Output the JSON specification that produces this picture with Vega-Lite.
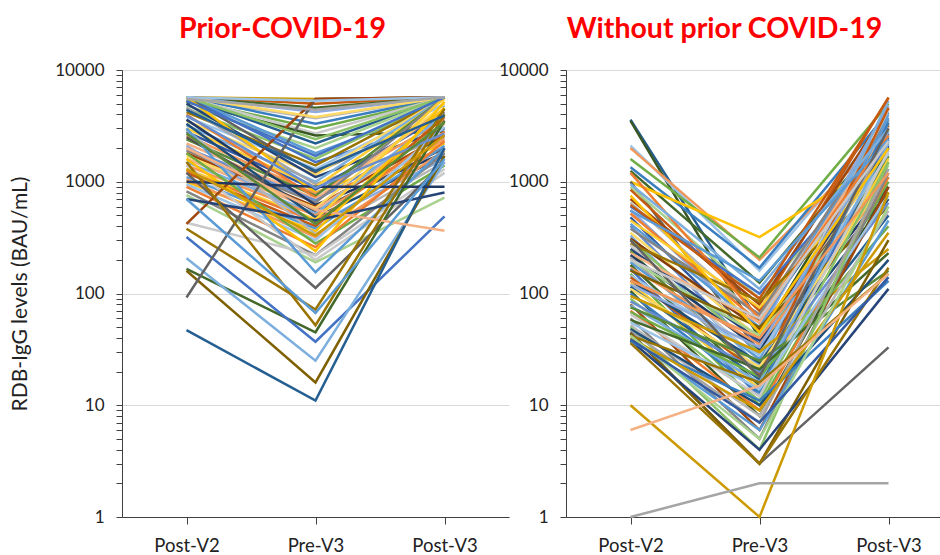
{
"$schema": "https://vega.github.io/schema/vega-lite/v6.json",
"background": "white",
"padding": {"left": 9, "top": 14, "right": 0, "bottom": 0},
"spacing": -11,
"config": {"view": {"stroke": null}, "font": "Lato",
  "axis": {"labelFont": "Lato", "titleFont": "Lato", "labelColor": "#222222", "titleColor": "#222222"}},
"datasets": {
"prior": [
{"id":1,"t":"Post-V2","v":5700,"s":21},{"id":1,"t":"Pre-V3","v":5500,"s":21},{"id":1,"t":"Post-V3","v":5700,"s":21},
{"id":2,"t":"Post-V2","v":5700,"s":19},{"id":2,"t":"Pre-V3","v":5000,"s":19},{"id":2,"t":"Post-V3","v":5700,"s":19},
{"id":3,"t":"Post-V2","v":5700,"s":11},{"id":3,"t":"Pre-V3","v":4600,"s":11},{"id":3,"t":"Post-V3","v":5700,"s":11},
{"id":4,"t":"Post-V2","v":5700,"s":24},{"id":4,"t":"Pre-V3","v":4200,"s":24},{"id":4,"t":"Post-V3","v":5700,"s":24},
{"id":5,"t":"Post-V2","v":5600,"s":14},{"id":5,"t":"Pre-V3","v":3700,"s":14},{"id":5,"t":"Post-V3","v":5700,"s":14},
{"id":6,"t":"Post-V2","v":5700,"s":22},{"id":6,"t":"Pre-V3","v":3300,"s":22},{"id":6,"t":"Post-V3","v":5700,"s":22},
{"id":7,"t":"Post-V2","v":5400,"s":5},{"id":7,"t":"Pre-V3","v":3000,"s":5},{"id":7,"t":"Post-V3","v":5600,"s":5},
{"id":8,"t":"Post-V2","v":5700,"s":26},{"id":8,"t":"Pre-V3","v":2700,"s":26},{"id":8,"t":"Post-V3","v":5700,"s":26},
{"id":9,"t":"Post-V2","v":5200,"s":35},{"id":9,"t":"Pre-V3","v":2600,"s":35},{"id":9,"t":"Post-V3","v":2800,"s":35},
{"id":10,"t":"Post-V2","v":5700,"s":10},{"id":10,"t":"Pre-V3","v":2200,"s":10},{"id":10,"t":"Post-V3","v":5700,"s":10},
{"id":11,"t":"Post-V2","v":4800,"s":29},{"id":11,"t":"Pre-V3","v":2000,"s":29},{"id":11,"t":"Post-V3","v":5700,"s":29},
{"id":12,"t":"Post-V2","v":5700,"s":4},{"id":12,"t":"Pre-V3","v":1800,"s":4},{"id":12,"t":"Post-V3","v":4800,"s":4},
{"id":13,"t":"Post-V2","v":4500,"s":17},{"id":13,"t":"Pre-V3","v":1600,"s":17},{"id":13,"t":"Post-V3","v":5700,"s":17},
{"id":14,"t":"Post-V2","v":5700,"s":0},{"id":14,"t":"Pre-V3","v":1500,"s":0},{"id":14,"t":"Post-V3","v":3500,"s":0},
{"id":15,"t":"Post-V2","v":4200,"s":9},{"id":15,"t":"Pre-V3","v":1400,"s":9},{"id":15,"t":"Post-V3","v":5700,"s":9},
{"id":16,"t":"Post-V2","v":3800,"s":28},{"id":16,"t":"Pre-V3","v":1300,"s":28},{"id":16,"t":"Post-V3","v":5000,"s":28},
{"id":17,"t":"Post-V2","v":5700,"s":8},{"id":17,"t":"Pre-V3","v":1200,"s":8},{"id":17,"t":"Post-V3","v":4200,"s":8},
{"id":18,"t":"Post-V2","v":3500,"s":27},{"id":18,"t":"Pre-V3","v":1150,"s":27},{"id":18,"t":"Post-V3","v":5700,"s":27},
{"id":19,"t":"Post-V2","v":5000,"s":6},{"id":19,"t":"Pre-V3","v":1100,"s":6},{"id":19,"t":"Post-V3","v":3000,"s":6},
{"id":20,"t":"Post-V2","v":3200,"s":16},{"id":20,"t":"Pre-V3","v":1000,"s":16},{"id":20,"t":"Post-V3","v":5700,"s":16},
{"id":21,"t":"Post-V2","v":4600,"s":2},{"id":21,"t":"Pre-V3","v":950,"s":2},{"id":21,"t":"Post-V3","v":2500,"s":2},
{"id":22,"t":"Post-V2","v":3000,"s":15},{"id":22,"t":"Pre-V3","v":900,"s":15},{"id":22,"t":"Post-V3","v":5500,"s":15},
{"id":23,"t":"Post-V2","v":2800,"s":18},{"id":23,"t":"Pre-V3","v":850,"s":18},{"id":23,"t":"Post-V3","v":4000,"s":18},
{"id":24,"t":"Post-V2","v":5700,"s":3},{"id":24,"t":"Pre-V3","v":800,"s":3},{"id":24,"t":"Post-V3","v":2200,"s":3},
{"id":25,"t":"Post-V2","v":2600,"s":13},{"id":25,"t":"Pre-V3","v":780,"s":13},{"id":25,"t":"Post-V3","v":3600,"s":13},
{"id":26,"t":"Post-V2","v":2400,"s":23},{"id":26,"t":"Pre-V3","v":750,"s":23},{"id":26,"t":"Post-V3","v":5700,"s":23},
{"id":27,"t":"Post-V2","v":4000,"s":1},{"id":27,"t":"Pre-V3","v":720,"s":1},{"id":27,"t":"Post-V3","v":2000,"s":1},
{"id":28,"t":"Post-V2","v":2200,"s":25},{"id":28,"t":"Pre-V3","v":700,"s":25},{"id":28,"t":"Post-V3","v":4500,"s":25},
{"id":29,"t":"Post-V2","v":2000,"s":12},{"id":29,"t":"Pre-V3","v":680,"s":12},{"id":29,"t":"Post-V3","v":3000,"s":12},
{"id":30,"t":"Post-V2","v":1900,"s":20},{"id":30,"t":"Pre-V3","v":650,"s":20},{"id":30,"t":"Post-V3","v":5700,"s":20},
{"id":31,"t":"Post-V2","v":3600,"s":30},{"id":31,"t":"Pre-V3","v":620,"s":30},{"id":31,"t":"Post-V3","v":1800,"s":30},
{"id":32,"t":"Post-V2","v":1800,"s":7},{"id":32,"t":"Pre-V3","v":600,"s":7},{"id":32,"t":"Post-V3","v":2600,"s":7},
{"id":33,"t":"Post-V2","v":1700,"s":27},{"id":33,"t":"Pre-V3","v":580,"s":27},{"id":33,"t":"Post-V3","v":5000,"s":27},
{"id":34,"t":"Post-V2","v":1600,"s":25},{"id":34,"t":"Pre-V3","v":560,"s":25},{"id":34,"t":"Post-V3","v":3300,"s":25},
{"id":35,"t":"Post-V2","v":2500,"s":32},{"id":35,"t":"Pre-V3","v":540,"s":32},{"id":35,"t":"Post-V3","v":2000,"s":32},
{"id":36,"t":"Post-V2","v":1500,"s":16},{"id":36,"t":"Pre-V3","v":520,"s":16},{"id":36,"t":"Post-V3","v":4000,"s":16},
{"id":37,"t":"Post-V2","v":1400,"s":13},{"id":37,"t":"Pre-V3","v":500,"s":13},{"id":37,"t":"Post-V3","v":2400,"s":13},
{"id":38,"t":"Post-V2","v":3300,"s":34},{"id":38,"t":"Pre-V3","v":480,"s":34},{"id":38,"t":"Post-V3","v":1700,"s":34},
{"id":39,"t":"Post-V2","v":1300,"s":15},{"id":39,"t":"Pre-V3","v":460,"s":15},{"id":39,"t":"Post-V3","v":5700,"s":15},
{"id":40,"t":"Post-V2","v":1250,"s":1},{"id":40,"t":"Pre-V3","v":440,"s":1},{"id":40,"t":"Post-V3","v":2800,"s":1},
{"id":41,"t":"Post-V2","v":2100,"s":24},{"id":41,"t":"Pre-V3","v":420,"s":24},{"id":41,"t":"Post-V3","v":1600,"s":24},
{"id":42,"t":"Post-V2","v":1200,"s":19},{"id":42,"t":"Pre-V3","v":400,"s":19},{"id":42,"t":"Post-V3","v":3800,"s":19},
{"id":43,"t":"Post-V2","v":1100,"s":4},{"id":43,"t":"Pre-V3","v":380,"s":4},{"id":43,"t":"Post-V3","v":2100,"s":4},
{"id":44,"t":"Post-V2","v":1000,"s":3},{"id":44,"t":"Pre-V3","v":360,"s":3},{"id":44,"t":"Post-V3","v":4600,"s":3},
{"id":45,"t":"Post-V2","v":2900,"s":14},{"id":45,"t":"Pre-V3","v":340,"s":14},{"id":45,"t":"Post-V3","v":1500,"s":14},
{"id":46,"t":"Post-V2","v":1050,"s":13},{"id":46,"t":"Pre-V3","v":320,"s":13},{"id":46,"t":"Post-V3","v":1900,"s":13},
{"id":47,"t":"Post-V2","v":950,"s":28},{"id":47,"t":"Pre-V3","v":300,"s":28},{"id":47,"t":"Post-V3","v":3100,"s":28},
{"id":48,"t":"Post-V2","v":1800,"s":5},{"id":48,"t":"Pre-V3","v":280,"s":5},{"id":48,"t":"Post-V3","v":1400,"s":5},
{"id":49,"t":"Post-V2","v":900,"s":1},{"id":49,"t":"Pre-V3","v":260,"s":1},{"id":49,"t":"Post-V3","v":2300,"s":1},
{"id":50,"t":"Post-V2","v":1600,"s":3},{"id":50,"t":"Pre-V3","v":240,"s":3},{"id":50,"t":"Post-V3","v":5200,"s":3},
{"id":51,"t":"Post-V2","v":820,"s":20},{"id":51,"t":"Pre-V3","v":220,"s":20},{"id":51,"t":"Post-V3","v":1800,"s":20},
{"id":52,"t":"Post-V2","v":1400,"s":26},{"id":52,"t":"Pre-V3","v":200,"s":26},{"id":52,"t":"Post-V3","v":1200,"s":26},
{"id":53,"t":"Post-V2","v":760,"s":29},{"id":53,"t":"Pre-V3","v":190,"s":29},{"id":53,"t":"Post-V3","v":720,"s":29},
{"id":54,"t":"Post-V2","v":430,"s":26},{"id":54,"t":"Pre-V3","v":220,"s":26},{"id":54,"t":"Post-V3","v":1300,"s":26},
{"id":55,"t":"Post-V2","v":3000,"s":4},{"id":55,"t":"Pre-V3","v":155,"s":4},{"id":55,"t":"Post-V3","v":2000,"s":4},
{"id":56,"t":"Post-V2","v":1200,"s":8},{"id":56,"t":"Pre-V3","v":112,"s":8},{"id":56,"t":"Post-V3","v":1500,"s":8},
{"id":57,"t":"Post-V2","v":380,"s":9},{"id":57,"t":"Pre-V3","v":72,"s":9},{"id":57,"t":"Post-V3","v":4500,"s":9},
{"id":58,"t":"Post-V2","v":166,"s":11},{"id":58,"t":"Pre-V3","v":45,"s":11},{"id":58,"t":"Post-V3","v":3500,"s":11},
{"id":59,"t":"Post-V2","v":320,"s":0},{"id":59,"t":"Pre-V3","v":37,"s":0},{"id":59,"t":"Post-V3","v":490,"s":0},
{"id":60,"t":"Post-V2","v":207,"s":16},{"id":60,"t":"Pre-V3","v":25,"s":16},{"id":60,"t":"Post-V3","v":1500,"s":16},
{"id":61,"t":"Post-V2","v":160,"s":33},{"id":61,"t":"Pre-V3","v":16,"s":33},{"id":61,"t":"Post-V3","v":1700,"s":33},
{"id":62,"t":"Post-V2","v":47,"s":10},{"id":62,"t":"Pre-V3","v":11,"s":10},{"id":62,"t":"Post-V3","v":2000,"s":10},
{"id":63,"t":"Post-V2","v":92,"s":8},{"id":63,"t":"Pre-V3","v":5500,"s":8},{"id":63,"t":"Post-V3","v":5700,"s":8},
{"id":64,"t":"Post-V2","v":420,"s":7},{"id":64,"t":"Pre-V3","v":5500,"s":7},{"id":64,"t":"Post-V3","v":5700,"s":7},
{"id":65,"t":"Post-V2","v":700,"s":6},{"id":65,"t":"Pre-V3","v":450,"s":6},{"id":65,"t":"Post-V3","v":800,"s":6},
{"id":66,"t":"Post-V2","v":1000,"s":30},{"id":66,"t":"Pre-V3","v":900,"s":30},{"id":66,"t":"Post-V3","v":900,"s":30},
{"id":67,"t":"Post-V2","v":2000,"s":25},{"id":67,"t":"Pre-V3","v":560,"s":25},{"id":67,"t":"Post-V3","v":364,"s":25},
{"id":68,"t":"Post-V2","v":1500,"s":9},{"id":68,"t":"Pre-V3","v":52,"s":9},{"id":68,"t":"Post-V3","v":4000,"s":9},
{"id":69,"t":"Post-V2","v":700,"s":4},{"id":69,"t":"Pre-V3","v":67,"s":4},{"id":69,"t":"Post-V3","v":1600,"s":4},
{"id":70,"t":"Post-V2","v":5700,"s":27},{"id":70,"t":"Pre-V3","v":3800,"s":27},{"id":70,"t":"Post-V3","v":5700,"s":27},
{"id":71,"t":"Post-V2","v":5700,"s":17},{"id":71,"t":"Pre-V3","v":2400,"s":17},{"id":71,"t":"Post-V3","v":5700,"s":17},
{"id":72,"t":"Post-V2","v":5300,"s":0},{"id":72,"t":"Pre-V3","v":1700,"s":0},{"id":72,"t":"Post-V3","v":5700,"s":0},
{"id":73,"t":"Post-V2","v":4400,"s":10},{"id":73,"t":"Pre-V3","v":1250,"s":10},{"id":73,"t":"Post-V3","v":3900,"s":10},
{"id":74,"t":"Post-V2","v":3900,"s":12},{"id":74,"t":"Pre-V3","v":880,"s":12},{"id":74,"t":"Post-V3","v":2700,"s":12},
{"id":75,"t":"Post-V2","v":2700,"s":23},{"id":75,"t":"Pre-V3","v":420,"s":23},{"id":75,"t":"Post-V3","v":3400,"s":23},
{"id":76,"t":"Post-V2","v":1300,"s":21},{"id":76,"t":"Pre-V3","v":330,"s":21},{"id":76,"t":"Post-V3","v":2600,"s":21},
{"id":77,"t":"Post-V2","v":5700,"s":28},{"id":77,"t":"Pre-V3","v":5300,"s":28},{"id":77,"t":"Post-V3","v":5700,"s":28},
{"id":78,"t":"Post-V2","v":5500,"s":2},{"id":78,"t":"Pre-V3","v":4400,"s":2},{"id":78,"t":"Post-V3","v":5700,"s":2}
],
"without": [
{"id":1,"t":"Post-V2","v":3600,"s":10},{"id":1,"t":"Pre-V3","v":55,"s":10},{"id":1,"t":"Post-V3","v":2500,"s":10},
{"id":2,"t":"Post-V2","v":3500,"s":35},{"id":2,"t":"Pre-V3","v":40,"s":35},{"id":2,"t":"Post-V3","v":3200,"s":35},
{"id":3,"t":"Post-V2","v":2100,"s":28},{"id":3,"t":"Pre-V3","v":160,"s":28},{"id":3,"t":"Post-V3","v":3500,"s":28},
{"id":4,"t":"Post-V2","v":2000,"s":13},{"id":4,"t":"Pre-V3","v":200,"s":13},{"id":4,"t":"Post-V3","v":2800,"s":13},
{"id":5,"t":"Post-V2","v":1600,"s":5},{"id":5,"t":"Pre-V3","v":210,"s":5},{"id":5,"t":"Post-V3","v":5000,"s":5},
{"id":6,"t":"Post-V2","v":1350,"s":22},{"id":6,"t":"Pre-V3","v":170,"s":22},{"id":6,"t":"Post-V3","v":4200,"s":22},
{"id":7,"t":"Post-V2","v":1250,"s":11},{"id":7,"t":"Pre-V3","v":125,"s":11},{"id":7,"t":"Post-V3","v":3000,"s":11},
{"id":8,"t":"Post-V2","v":1000,"s":3},{"id":8,"t":"Pre-V3","v":320,"s":3},{"id":8,"t":"Post-V3","v":1700,"s":3},
{"id":9,"t":"Post-V2","v":1000,"s":8},{"id":9,"t":"Pre-V3","v":30,"s":8},{"id":9,"t":"Post-V3","v":800,"s":8},
{"id":10,"t":"Post-V2","v":900,"s":29},{"id":10,"t":"Pre-V3","v":90,"s":29},{"id":10,"t":"Post-V3","v":2200,"s":29},
{"id":11,"t":"Post-V2","v":850,"s":19},{"id":11,"t":"Pre-V3","v":70,"s":19},{"id":11,"t":"Post-V3","v":5700,"s":19},
{"id":12,"t":"Post-V2","v":700,"s":7},{"id":12,"t":"Pre-V3","v":80,"s":7},{"id":12,"t":"Post-V3","v":4500,"s":7},
{"id":13,"t":"Post-V2","v":650,"s":14},{"id":13,"t":"Pre-V3","v":60,"s":14},{"id":13,"t":"Post-V3","v":3800,"s":14},
{"id":14,"t":"Post-V2","v":600,"s":0},{"id":14,"t":"Pre-V3","v":100,"s":0},{"id":14,"t":"Post-V3","v":2000,"s":0},
{"id":15,"t":"Post-V2","v":560,"s":24},{"id":15,"t":"Pre-V3","v":45,"s":24},{"id":15,"t":"Post-V3","v":4800,"s":24},
{"id":16,"t":"Post-V2","v":520,"s":1},{"id":16,"t":"Pre-V3","v":55,"s":1},{"id":16,"t":"Post-V3","v":3300,"s":1},
{"id":17,"t":"Post-V2","v":480,"s":18},{"id":17,"t":"Pre-V3","v":35,"s":18},{"id":17,"t":"Post-V3","v":2700,"s":18},
{"id":18,"t":"Post-V2","v":450,"s":15},{"id":18,"t":"Pre-V3","v":75,"s":15},{"id":18,"t":"Post-V3","v":1500,"s":15},
{"id":19,"t":"Post-V2","v":420,"s":4},{"id":19,"t":"Pre-V3","v":50,"s":4},{"id":19,"t":"Post-V3","v":4000,"s":4},
{"id":20,"t":"Post-V2","v":400,"s":12},{"id":20,"t":"Pre-V3","v":28,"s":12},{"id":20,"t":"Post-V3","v":2400,"s":12},
{"id":21,"t":"Post-V2","v":380,"s":20},{"id":21,"t":"Pre-V3","v":65,"s":20},{"id":21,"t":"Post-V3","v":3600,"s":20},
{"id":22,"t":"Post-V2","v":350,"s":27},{"id":22,"t":"Pre-V3","v":40,"s":27},{"id":22,"t":"Post-V3","v":1900,"s":27},
{"id":23,"t":"Post-V2","v":330,"s":16},{"id":23,"t":"Pre-V3","v":22,"s":16},{"id":23,"t":"Post-V3","v":5300,"s":16},
{"id":24,"t":"Post-V2","v":310,"s":31},{"id":24,"t":"Pre-V3","v":48,"s":31},{"id":24,"t":"Post-V3","v":1300,"s":31},
{"id":25,"t":"Post-V2","v":300,"s":17},{"id":25,"t":"Pre-V3","v":30,"s":17},{"id":25,"t":"Post-V3","v":2900,"s":17},
{"id":26,"t":"Post-V2","v":280,"s":9},{"id":26,"t":"Pre-V3","v":85,"s":9},{"id":26,"t":"Post-V3","v":1100,"s":9},
{"id":27,"t":"Post-V2","v":270,"s":26},{"id":27,"t":"Pre-V3","v":25,"s":26},{"id":27,"t":"Post-V3","v":4400,"s":26},
{"id":28,"t":"Post-V2","v":250,"s":6},{"id":28,"t":"Pre-V3","v":38,"s":6},{"id":28,"t":"Post-V3","v":2100,"s":6},
{"id":29,"t":"Post-V2","v":240,"s":23},{"id":29,"t":"Pre-V3","v":18,"s":23},{"id":29,"t":"Post-V3","v":1700,"s":23},
{"id":30,"t":"Post-V2","v":230,"s":25},{"id":30,"t":"Pre-V3","v":55,"s":25},{"id":30,"t":"Post-V3","v":3100,"s":25},
{"id":31,"t":"Post-V2","v":220,"s":30},{"id":31,"t":"Pre-V3","v":32,"s":30},{"id":31,"t":"Post-V3","v":900,"s":30},
{"id":32,"t":"Post-V2","v":210,"s":2},{"id":32,"t":"Pre-V3","v":20,"s":2},{"id":32,"t":"Post-V3","v":2600,"s":2},
{"id":33,"t":"Post-V2","v":200,"s":29},{"id":33,"t":"Pre-V3","v":42,"s":29},{"id":33,"t":"Post-V3","v":1400,"s":29},
{"id":34,"t":"Post-V2","v":190,"s":4},{"id":34,"t":"Pre-V3","v":26,"s":4},{"id":34,"t":"Post-V3","v":3700,"s":4},
{"id":35,"t":"Post-V2","v":180,"s":11},{"id":35,"t":"Pre-V3","v":15,"s":11},{"id":35,"t":"Post-V3","v":2000,"s":11},
{"id":36,"t":"Post-V2","v":170,"s":13},{"id":36,"t":"Pre-V3","v":35,"s":13},{"id":36,"t":"Post-V3","v":1000,"s":13},
{"id":37,"t":"Post-V2","v":165,"s":0},{"id":37,"t":"Pre-V3","v":12,"s":0},{"id":37,"t":"Post-V3","v":2300,"s":0},
{"id":38,"t":"Post-V2","v":160,"s":33},{"id":38,"t":"Pre-V3","v":50,"s":33},{"id":38,"t":"Post-V3","v":600,"s":33},
{"id":39,"t":"Post-V2","v":150,"s":5},{"id":39,"t":"Pre-V3","v":10,"s":5},{"id":39,"t":"Post-V3","v":1000,"s":5},
{"id":40,"t":"Post-V2","v":145,"s":28},{"id":40,"t":"Pre-V3","v":28,"s":28},{"id":40,"t":"Post-V3","v":1800,"s":28},
{"id":41,"t":"Post-V2","v":140,"s":19},{"id":41,"t":"Pre-V3","v":19,"s":19},{"id":41,"t":"Post-V3","v":4600,"s":19},
{"id":42,"t":"Post-V2","v":130,"s":34},{"id":42,"t":"Pre-V3","v":24,"s":34},{"id":42,"t":"Post-V3","v":700,"s":34},
{"id":43,"t":"Post-V2","v":125,"s":15},{"id":43,"t":"Pre-V3","v":14,"s":15},{"id":43,"t":"Post-V3","v":1600,"s":15},
{"id":44,"t":"Post-V2","v":120,"s":24},{"id":44,"t":"Pre-V3","v":33,"s":24},{"id":44,"t":"Post-V3","v":2800,"s":24},
{"id":45,"t":"Post-V2","v":115,"s":10},{"id":45,"t":"Pre-V3","v":17,"s":10},{"id":45,"t":"Post-V3","v":500,"s":10},
{"id":46,"t":"Post-V2","v":110,"s":27},{"id":46,"t":"Pre-V3","v":22,"s":27},{"id":46,"t":"Post-V3","v":1200,"s":27},
{"id":47,"t":"Post-V2","v":105,"s":35},{"id":47,"t":"Pre-V3","v":8,"s":35},{"id":47,"t":"Post-V3","v":900,"s":35},
{"id":48,"t":"Post-V2","v":100,"s":22},{"id":48,"t":"Pre-V3","v":13,"s":22},{"id":48,"t":"Post-V3","v":3400,"s":22},
{"id":49,"t":"Post-V2","v":95,"s":21},{"id":49,"t":"Pre-V3","v":30,"s":21},{"id":49,"t":"Post-V3","v":250,"s":21},
{"id":50,"t":"Post-V2","v":90,"s":17},{"id":50,"t":"Pre-V3","v":11,"s":17},{"id":50,"t":"Post-V3","v":1500,"s":17},
{"id":51,"t":"Post-V2","v":85,"s":12},{"id":51,"t":"Pre-V3","v":20,"s":12},{"id":51,"t":"Post-V3","v":650,"s":12},
{"id":52,"t":"Post-V2","v":80,"s":7},{"id":52,"t":"Pre-V3","v":6,"s":7},{"id":52,"t":"Post-V3","v":900,"s":7},
{"id":53,"t":"Post-V2","v":78,"s":16},{"id":53,"t":"Pre-V3","v":16,"s":16},{"id":53,"t":"Post-V3","v":2200,"s":16},
{"id":54,"t":"Post-V2","v":75,"s":23},{"id":54,"t":"Pre-V3","v":25,"s":23},{"id":54,"t":"Post-V3","v":160,"s":23},
{"id":55,"t":"Post-V2","v":70,"s":1},{"id":55,"t":"Pre-V3","v":9,"s":1},{"id":55,"t":"Post-V3","v":1100,"s":1},
{"id":56,"t":"Post-V2","v":68,"s":5},{"id":56,"t":"Pre-V3","v":18,"s":5},{"id":56,"t":"Post-V3","v":400,"s":5},
{"id":57,"t":"Post-V2","v":65,"s":26},{"id":57,"t":"Pre-V3","v":12,"s":26},{"id":57,"t":"Post-V3","v":1900,"s":26},
{"id":58,"t":"Post-V2","v":60,"s":20},{"id":58,"t":"Pre-V3","v":5,"s":20},{"id":58,"t":"Post-V3","v":1200,"s":20},
{"id":59,"t":"Post-V2","v":58,"s":11},{"id":59,"t":"Pre-V3","v":21,"s":11},{"id":59,"t":"Post-V3","v":230,"s":11},
{"id":60,"t":"Post-V2","v":55,"s":28},{"id":60,"t":"Pre-V3","v":14,"s":28},{"id":60,"t":"Post-V3","v":750,"s":28},
{"id":61,"t":"Post-V2","v":52,"s":14},{"id":61,"t":"Pre-V3","v":8,"s":14},{"id":61,"t":"Post-V3","v":550,"s":14},
{"id":62,"t":"Post-V2","v":50,"s":17},{"id":62,"t":"Pre-V3","v":4,"s":17},{"id":62,"t":"Post-V3","v":1500,"s":17},
{"id":63,"t":"Post-V2","v":48,"s":34},{"id":63,"t":"Pre-V3","v":10,"s":34},{"id":63,"t":"Post-V3","v":200,"s":34},
{"id":64,"t":"Post-V2","v":46,"s":2},{"id":64,"t":"Pre-V3","v":7,"s":2},{"id":64,"t":"Post-V3","v":1300,"s":2},
{"id":65,"t":"Post-V2","v":45,"s":8},{"id":65,"t":"Pre-V3","v":3,"s":8},{"id":65,"t":"Post-V3","v":33,"s":8},
{"id":66,"t":"Post-V2","v":44,"s":33},{"id":66,"t":"Pre-V3","v":3,"s":33},{"id":66,"t":"Post-V3","v":300,"s":33},
{"id":67,"t":"Post-V2","v":42,"s":9},{"id":67,"t":"Pre-V3","v":16,"s":9},{"id":67,"t":"Post-V3","v":150,"s":9},
{"id":68,"t":"Post-V2","v":40,"s":4},{"id":68,"t":"Pre-V3","v":6,"s":4},{"id":68,"t":"Post-V3","v":450,"s":4},
{"id":69,"t":"Post-V2","v":38,"s":6},{"id":69,"t":"Pre-V3","v":4,"s":6},{"id":69,"t":"Post-V3","v":110,"s":6},
{"id":70,"t":"Post-V2","v":37,"s":22},{"id":70,"t":"Pre-V3","v":11,"s":22},{"id":70,"t":"Post-V3","v":130,"s":22},
{"id":71,"t":"Post-V2","v":36,"s":9},{"id":71,"t":"Pre-V3","v":3,"s":9},{"id":71,"t":"Post-V3","v":170,"s":9},
{"id":72,"t":"Post-V2","v":40,"s":21},{"id":72,"t":"Pre-V3","v":9,"s":21},{"id":72,"t":"Post-V3","v":350,"s":21},
{"id":73,"t":"Post-V2","v":42,"s":29},{"id":73,"t":"Pre-V3","v":5,"s":29},{"id":73,"t":"Post-V3","v":600,"s":29},
{"id":74,"t":"Post-V2","v":39,"s":18},{"id":74,"t":"Pre-V3","v":7,"s":18},{"id":74,"t":"Post-V3","v":140,"s":18},
{"id":75,"t":"Post-V2","v":10,"s":21},{"id":75,"t":"Pre-V3","v":1,"s":21},{"id":75,"t":"Post-V3","v":800,"s":21},
{"id":76,"t":"Post-V2","v":6,"s":25},{"id":76,"t":"Pre-V3","v":15,"s":25},{"id":76,"t":"Post-V3","v":150,"s":25},
{"id":77,"t":"Post-V2","v":1,"s":2},{"id":77,"t":"Pre-V3","v":2,"s":2},{"id":77,"t":"Post-V3","v":2,"s":2},
{"id":78,"t":"Post-V2","v":1200,"s":1},{"id":78,"t":"Pre-V3","v":60,"s":1},{"id":78,"t":"Post-V3","v":2600,"s":1},
{"id":79,"t":"Post-V2","v":950,"s":16},{"id":79,"t":"Pre-V3","v":110,"s":16},{"id":79,"t":"Post-V3","v":3000,"s":16},
{"id":80,"t":"Post-V2","v":750,"s":3},{"id":80,"t":"Pre-V3","v":45,"s":3},{"id":80,"t":"Post-V3","v":2000,"s":3},
{"id":81,"t":"Post-V2","v":620,"s":19},{"id":81,"t":"Pre-V3","v":90,"s":19},{"id":81,"t":"Post-V3","v":5600,"s":19},
{"id":82,"t":"Post-V2","v":550,"s":4},{"id":82,"t":"Pre-V3","v":130,"s":4},{"id":82,"t":"Post-V3","v":2400,"s":4},
{"id":83,"t":"Post-V2","v":300,"s":8},{"id":83,"t":"Pre-V3","v":18,"s":8},{"id":83,"t":"Post-V3","v":3000,"s":8},
{"id":84,"t":"Post-V2","v":200,"s":26},{"id":84,"t":"Pre-V3","v":60,"s":26},{"id":84,"t":"Post-V3","v":2300,"s":26},
{"id":85,"t":"Post-V2","v":130,"s":13},{"id":85,"t":"Pre-V3","v":40,"s":13},{"id":85,"t":"Post-V3","v":1200,"s":13}
]
},
"hconcat": [
{
"title": {"text": "Prior-COVID-19", "color": "#FF0000", "fontSize": 28.5, "fontWeight": "bold", "font": "Lato", "offset": 18, "dx": -33, "anchor": "middle"},
"width": 387, "height": 447,
"data": {"name": "prior"},
"mark": {"type": "line", "strokeWidth": 2.5},
"encoding": {
"x": {"field": "t", "type": "ordinal", "sort": ["Post-V2", "Pre-V3", "Post-V3"], "scale": {"type": "point", "padding": 0.5},
  "axis": {"title": null, "labelAngle": 0, "labelFontSize": 18.5, "domainColor": "#404040", "tickColor": "#404040", "tickSize": 7, "labelPadding": 12, "grid": false}},
"y": {"field": "v", "type": "quantitative", "scale": {"type": "log", "domain": [1, 10000], "nice": false},
  "axis": {"title": "RDB-IgG levels (BAU/mL)", "titleFontSize": 21, "titleFontWeight": "normal", "titlePadding": 24,
    "values": [1,2,3,4,5,6,7,8,9,10,20,30,40,50,60,70,80,90,100,200,300,400,500,600,700,800,900,1000,2000,3000,4000,5000,6000,7000,8000,9000,10000],
    "labelExpr": "indexof([1,10,100,1000,10000], datum.value) >= 0 ? format(datum.value, 'd') : ''",
    "labelFontSize": 17, "labelPadding": 12, "tickSize": 6, "tickColor": "#404040", "domainColor": "#404040",
    "grid": true, "gridColor": "#D9D9D9", "gridWidth": 1.2,
    "gridOpacity": {"condition": {"test": "indexof([1,10,100,1000,10000], datum.value) < 0", "value": 0}, "value": 1}}},
"color": {"field": "s", "type": "nominal", "legend": null,
  "scale": {"domain": [0,1,2,3,4,5,6,7,8,9,10,11,12,13,14,15,16,17,18,19,20,21,22,23,24,25,26,27,28,29,30,31,32,33,34,35],
    "range": ["#4472C4","#ED7D31","#A5A5A5","#FFC000","#5B9BD5","#70AD47","#264478","#9E480E","#636363","#997300","#255E91","#43682B","#698ED0","#F1975A","#B7B7B7","#FFCD33","#7CAFDD","#8CC168","#335AA1","#C55A11","#848484","#CC9A00","#3A7EC0","#5A8A39","#8FAADC","#F4B183","#C9C9C9","#FFD966","#9DC3E6","#A9D18E","#203864","#843C0C","#525252","#7F6000","#1F4E79","#385723"]}},
"detail": {"field": "id", "type": "nominal"}
}
},
{
"title": {"text": "Without prior COVID-19", "color": "#FF0000", "fontSize": 28.5, "fontWeight": "bold", "font": "Lato", "offset": 18, "dx": -35, "anchor": "middle"},
"width": 387, "height": 447,
"data": {"name": "without"},
"mark": {"type": "line", "strokeWidth": 2.5},
"encoding": {
"x": {"field": "t", "type": "ordinal", "sort": ["Post-V2", "Pre-V3", "Post-V3"], "scale": {"type": "point", "padding": 0.5},
  "axis": {"title": null, "labelAngle": 0, "labelFontSize": 18.5, "domainColor": "#404040", "tickColor": "#404040", "tickSize": 7, "labelPadding": 12, "grid": false}},
"y": {"field": "v", "type": "quantitative", "scale": {"type": "log", "domain": [1, 10000], "nice": false},
  "axis": {"title": null,
    "values": [1,2,3,4,5,6,7,8,9,10,20,30,40,50,60,70,80,90,100,200,300,400,500,600,700,800,900,1000,2000,3000,4000,5000,6000,7000,8000,9000,10000],
    "labelExpr": "indexof([1,10,100,1000,10000], datum.value) >= 0 ? format(datum.value, 'd') : ''",
    "labelFontSize": 17, "labelPadding": 12, "tickSize": 6, "tickColor": "#404040", "domainColor": "#404040",
    "grid": true, "gridColor": "#D9D9D9", "gridWidth": 1.2,
    "gridOpacity": {"condition": {"test": "indexof([1,10,100,1000,10000], datum.value) < 0", "value": 0}, "value": 1}}},
"color": {"field": "s", "type": "nominal", "legend": null,
  "scale": {"domain": [0,1,2,3,4,5,6,7,8,9,10,11,12,13,14,15,16,17,18,19,20,21,22,23,24,25,26,27,28,29,30,31,32,33,34,35],
    "range": ["#4472C4","#ED7D31","#A5A5A5","#FFC000","#5B9BD5","#70AD47","#264478","#9E480E","#636363","#997300","#255E91","#43682B","#698ED0","#F1975A","#B7B7B7","#FFCD33","#7CAFDD","#8CC168","#335AA1","#C55A11","#848484","#CC9A00","#3A7EC0","#5A8A39","#8FAADC","#F4B183","#C9C9C9","#FFD966","#9DC3E6","#A9D18E","#203864","#843C0C","#525252","#7F6000","#1F4E79","#385723"]}},
"detail": {"field": "id", "type": "nominal"}
}
}
],
"resolve": {"scale": {"color": "independent"}}
}
